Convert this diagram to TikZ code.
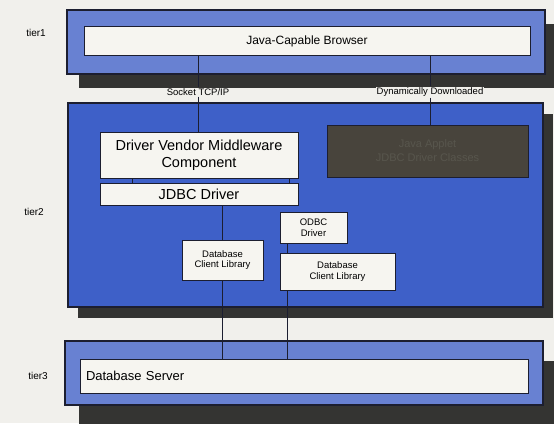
\documentclass[tikz,border=0pt]{standalone}
\usepackage{fontspec}
\setmainfont{Liberation Sans}
\usepackage{tikz}
\usetikzlibrary{shadows}
\definecolor{paper}{RGB}{241, 240, 236}
\definecolor{tierA}{RGB}{104, 129, 210}
\definecolor{tierB}{RGB}{62, 96, 200}
\definecolor{frame}{RGB}{28, 30, 48}
\definecolor{shade}{RGB}{52, 52, 50}
\definecolor{boxfill}{RGB}{246, 245, 240}
\definecolor{darkbox}{RGB}{72, 68, 60}
\definecolor{darktext}{RGB}{88, 86, 77}

\begin{document}
\begin{tikzpicture}[x=1pt, y=-1pt, font=\fontsize{9.5}{10.5}\selectfont,
        tier/.style 2 args={rectangle, draw=frame, line width=1.1pt, fill=tierA, inner sep=0pt,
                            general shadow={fill=shade, shadow xshift=#1, shadow yshift=#2}},
        inner/.style={rectangle, draw=frame, line width=0.9pt, fill=boxfill, inner sep=0pt},
        part/.style={rectangle, draw=frame, line width=0.9pt, fill=boxfill, inner sep=0pt, align=center},
        tag/.style={font=\fontsize{10}{12}\selectfont},
        pass/.style={fill=paper, inner sep=1pt, font=\fontsize{9.5}{11}\selectfont},
        link/.style={draw=frame, line width=0.8pt}
    ]
        \useasboundingbox[fill=paper] (0,0) rectangle (554,423);

        \node[tier={12pt}{-14pt}, minimum width=478pt, minimum height=64pt] (t1) at (306,42) {};
        \node[tier={10pt}{-11pt}, fill=tierB, minimum width=475pt, minimum height=204pt] (t2) at (305.5,205) {};
        \node[tier={14pt}{-20pt}, minimum width=478pt, minimum height=64pt] (t3) at (304,373) {};

        \node[tag] (l1) at (36,33)  {tier1};
        \node[tag] (l2) at (34,212) {tier2};
        \node[tag] (l3) at (38,376) {tier3};

        \node[inner, minimum width=446pt, minimum height=29pt, font=\fontsize{12}{14}\selectfont] (browser) at (307,41) {Java-Capable Browser};
        \node[part, minimum width=198pt, minimum height=46pt, font=\fontsize{14.5}{17}\selectfont] (mw) at (199,155) {Driver Vendor Middleware\\Component};
        \node[part, minimum width=198pt, minimum height=22pt, font=\fontsize{14.5}{17}\selectfont] (jdbc) at (199,194) {JDBC Driver};
        \node[part, fill=darkbox, text=darktext, minimum width=201pt, minimum height=52pt, font=\fontsize{11}{14}\selectfont] (applet) at (427.5,151) {Java Applet\\JDBC Driver Classes};
        \node[part, minimum width=67pt, minimum height=31pt] (odbc) at (313.5,227.5) {ODBC\\Driver};
        \node[part, minimum width=81pt, minimum height=40pt] (lib1) at (222.5,260) {Database\\Client Library};
        \node[part, minimum width=115pt, minimum height=37pt] (lib2) at (337.5,271.5) {Database\\Client Library};
        \node[inner, inner xsep=6pt, text width=436pt, minimum height=34pt, align=left, font=\fontsize{13}{15}\selectfont] (server) at (304,376) {Database Server};

        \node[pass] (sock) at (198,92) {Socket TCP/IP};
        \node[pass] (dyn) at (430,92)  {Dynamically Downloaded};

        \draw[link] (browser.south -| sock) -- (sock.north);
        \draw[link] (sock.south) -- (sock.south |- mw.north);
        \draw[link] (browser.south -| dyn) -- (dyn.north);
        \draw[link] (dyn.south) -- (dyn.south |- applet.north);
        \foreach \dx in {33,190}
            \draw[link] ([xshift=\dx pt]mw.south west) -- ([xshift=\dx pt]jdbc.north west);
        \draw[link] (jdbc.south -| lib1) -- (lib1.north);
        \draw[link] (lib1.south) -- (lib1.south |- server.north);
        \draw[link] ([xshift=8pt]odbc.south west) -- ([xshift=8pt]lib2.north west);
        \draw[link] ([xshift=8pt]lib2.south west) -- ([xshift=8pt]lib2.south west |- server.north);
    \end{tikzpicture}
\end{document}
